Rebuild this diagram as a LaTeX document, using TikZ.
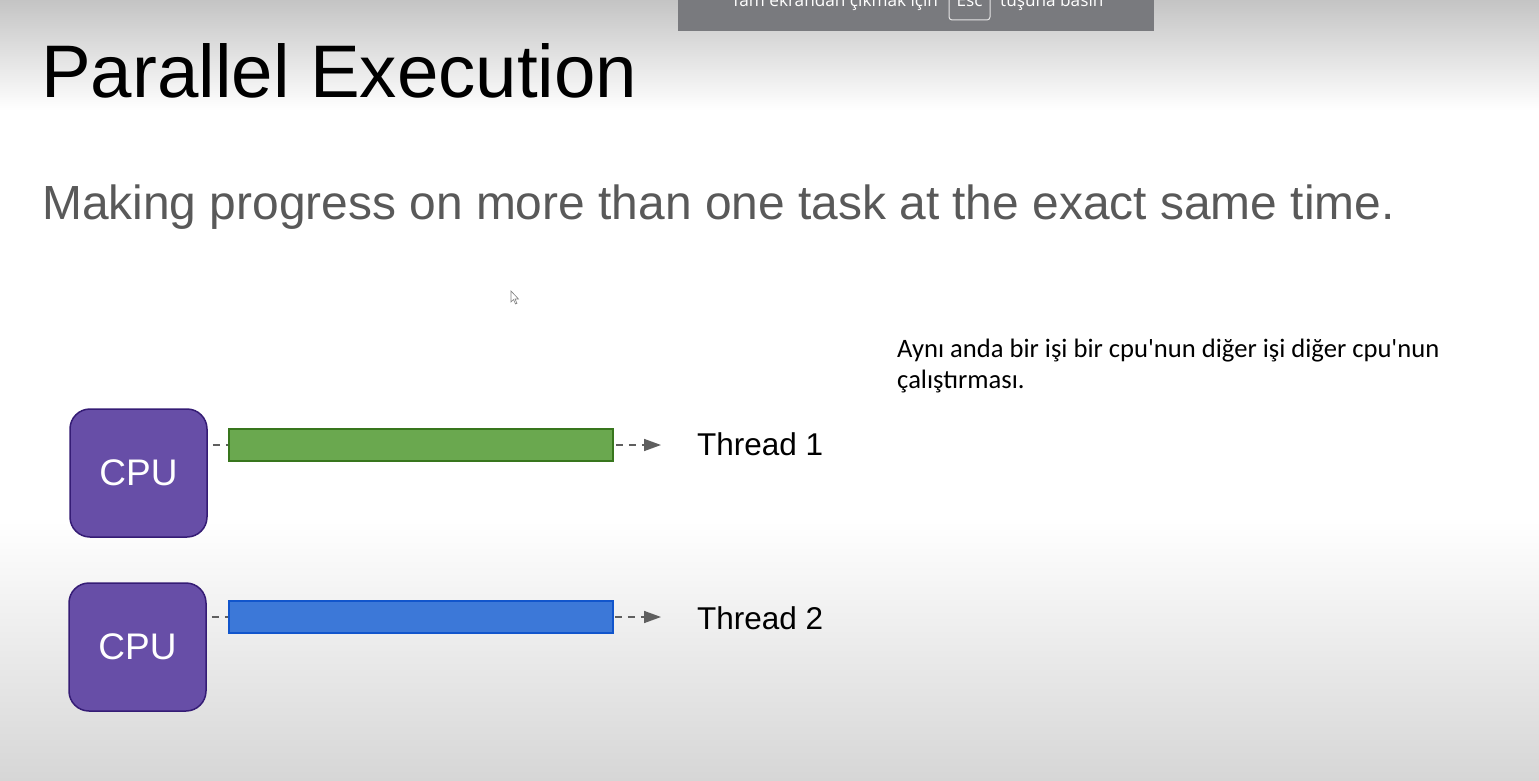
\documentclass[tikz,border=0pt]{standalone}
\usepackage{fontspec}
\setmainfont{Liberation Sans}
\newfontfamily\calib{Carlito}
\newfontfamily\segoe{Open Sans}
\usetikzlibrary{arrows.meta}
\definecolor{cpufill}{HTML}{674EA7}
\definecolor{cpuline}{HTML}{351C75}
\definecolor{gfill}{HTML}{6AA84F}
\definecolor{gline}{HTML}{38761D}
\definecolor{bfill}{HTML}{3C78D8}
\definecolor{bline}{HTML}{1155CC}
\definecolor{subgray}{RGB}{89,89,89}
\definecolor{conn}{RGB}{95,95,95}
\definecolor{barbg}{RGB}{121,122,126}
\tikzset{
  cpubox/.style={draw=cpuline, line width=1.5pt, fill=cpufill, rounded corners=20pt,
    minimum width=137pt, minimum height=128pt, inner sep=0pt, text=white,
    font=\fontsize{37}{37}\selectfont},
  bar/.style={line width=1.3pt, minimum width=384pt, minimum height=32pt, inner sep=0pt},
  threadlbl/.style={anchor=base west, inner sep=0pt, font=\fontsize{31.5}{31.5}\selectfont},
  dconn/.style={draw=conn, line width=1.6pt, dash pattern=on 7pt off 6pt,
    -{Triangle[length=17pt,width=12pt]}},
  ovtext/.style={inner sep=0pt, text=white, font=\segoe\fontsize{17.2}{17.2}\selectfont}
}
\begin{document}
\begin{tikzpicture}[x=1pt,y=-1pt]
\useasboundingbox (0,0) rectangle (1539,781);
% background gradient
\fill[white] (0,0) rectangle (1539,781);
\shade[top color={rgb,255:red,196;green,196;blue,196}, bottom color=white] (0,0) rectangle (1539,110);
\shade[top color=white, bottom color={rgb,255:red,214;green,214;blue,214}] (0,520) rectangle (1539,781);
% fullscreen overlay bar
\begin{scope}
\clip (678,0) rectangle (1154,31);
\fill[barbg] (678,0) rectangle (1154,31);
\node[ovtext, anchor=base west] (ov1) at (731,7) {Tam ekrandan çıkmak için};
\draw[white!80!gray, line width=1pt, rounded corners=3pt] (949,-10) rectangle (990,20);
\node[ovtext, anchor=base] (ov2) at (969.5,7) {Esc};
\node[ovtext, anchor=base west] (ov3) at (1000,7) {tuşuna basın};
\end{scope}
% title and subtitle
\node[anchor=base west, inner sep=0pt, font=\fontsize{74.5}{74.5}\selectfont] (title) at (41,98) {Parallel Execution};
\node[anchor=base west, inner sep=0pt, text=subgray, font=\fontsize{47.9}{47.9}\selectfont] (sub) at (42,219) {Making progress on more than one task at the exact same time.};
% cursor
\draw[fill=white, draw=gray, line width=0.6pt] (511,291) -- (511,302) -- (513.5,299.5) -- (515.5,304) -- (517,303.3) -- (515,299) -- (518.5,299) -- cycle;
% annotation
\node[anchor=base west, inner sep=0pt, align=left, font=\calib\fontsize{26.6}{31}\selectfont] (note) at (897,388) {Aynı anda bir işi bir cpu'nun diğer işi diğer cpu'nun\\çalıştırması.};
% CPUs
\node[cpubox] (cpu1) at (138.5,473) {CPU};
\node[cpubox] (cpu2) at (137.5,647) {CPU};
% thread labels
\node[threadlbl] (t1) at (697,455) {Thread 1};
\node[threadlbl] (t2) at (697,629) {Thread 2};
\coordinate (e1) at (661,445);
\coordinate (e2) at (661,617);
% connectors
\draw[dconn] ([xshift=5pt]cpu1.east |- e1) -- (e1);
\draw[dconn] ([xshift=5pt]cpu2.east |- e2) -- (e2);
% bars
\node[bar, draw=gline, fill=gfill] (bar1) at (421,445) {};
\node[bar, draw=bline, fill=bfill] (bar2) at (421,617) {};
\end{tikzpicture}
\end{document}
